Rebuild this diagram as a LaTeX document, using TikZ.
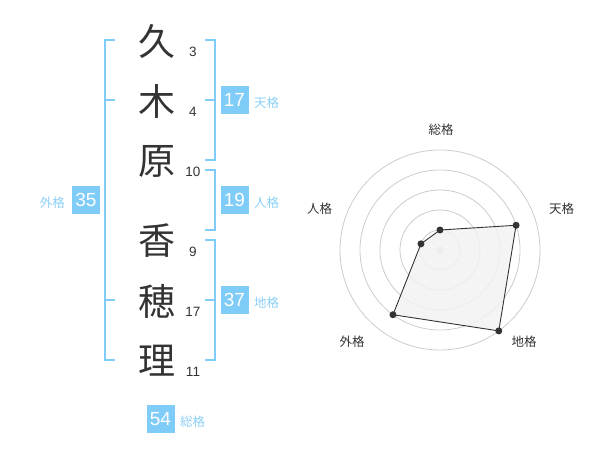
\documentclass[tikz,border=0pt]{standalone}
\usepackage{fontspec}
\newfontfamily\cjk{Noto Sans CJK JP}
\newfontfamily\numf{Liberation Sans}
\definecolor{sky}{HTML}{80CCF8}
\definecolor{skytext}{HTML}{8CCFF5}
\definecolor{ink}{HTML}{333333}
\definecolor{ring}{HTML}{CCCCCC}
\definecolor{area}{HTML}{F2F2F2}
\tikzset{
  kanji/.style={inner sep=0pt, text=ink, font=\cjk\fontsize{37}{37}\selectfont},
  stroke/.style={inner sep=0pt, text=ink, font=\numf\fontsize{13.5}{14}\selectfont},
  bracket/.style={draw=sky, line width=2pt},
  scorebox/.style={fill=sky, minimum width=28pt, minimum height=28pt, inner sep=0pt, text=white, font=\numf\fontsize{19}{19}\selectfont},
  scorelabel/.style={inner sep=0pt, text=skytext, font=\cjk\fontsize{12.5}{12.5}\selectfont},
  axislabel/.style={inner sep=0pt, text=ink, font=\cjk\fontsize{12.5}{12.5}\selectfont},
  ringline/.style={draw=ring, line width=0.8pt},
  dot/.style={circle, fill=ink, inner sep=0pt, minimum size=7pt},
}
\begin{document}
\begin{tikzpicture}[x=1pt,y=-1pt]
\useasboundingbox (0,0) rectangle (600,470);
% name characters
\node[kanji] (k1) at (157,41) {久};
\node[kanji] (k2) at (157,101) {木};
\node[kanji] (k3) at (157,161) {原};
\node[kanji] (k4) at (157,241) {香};
\node[kanji] (k5) at (157,301) {穂};
\node[kanji] (k6) at (157,361) {理};
\node[stroke] (s1) at (193,52) {3};
\node[stroke] (s2) at (193,112) {4};
\node[stroke] (s3) at (193,172) {10};
\node[stroke] (s4) at (193,252) {9};
\node[stroke] (s5) at (193,312) {17};
\node[stroke] (s6) at (193,372) {11};
% left bracket (gaikaku)
\coordinate (la) at (105,40);
\coordinate (lb) at (105,360);
\draw[bracket] (115,40) -- (la) -- (lb) -- (115,360);
\draw[bracket] (105,100) -- (115,100);
\draw[bracket] (105,300) -- (115,300);
% tenkaku bracket
\draw[bracket] (205,40) -- (215,40) -- (215,160) -- (205,160);
\draw[bracket] (205,100) -- (215,100);
% jinkaku bracket
\draw[bracket] (205,170) -- (215,170) -- (215,230) -- (205,230);
% chikaku bracket
\draw[bracket] (205,240) -- (215,240) -- (215,360) -- (205,360);
\draw[bracket] (205,300) -- (215,300);
% score boxes
\node[scorebox] (b17) at (234.5,100) {17};
\node[scorelabel, anchor=west] (t17) at (254,103) {天格};
\node[scorebox] (b19) at (234.5,200) {19};
\node[scorelabel, anchor=west] (t19) at (254,203) {人格};
\node[scorebox] (b37) at (234.5,300) {37};
\node[scorelabel, anchor=west] (t37) at (254,303) {地格};
\node[scorebox] (b35) at (86,200) {35};
\node[scorelabel, anchor=east] (t35) at (65,203) {外格};
\node[scorebox] (b54) at (160.5,419) {54};
\node[scorelabel, anchor=west] (t54) at (180,422) {総格};
% radar chart
\begin{scope}[shift={(440,250)}, yscale=-1]
  \foreach \r in {20,40,60,80,100} \draw[ringline] (0,0) circle[radius=\r];
  \node[circle, fill=ring, inner sep=0pt, minimum size=7pt] (c0) at (0,0) {};
  \coordinate (p1) at (90:20);
  \coordinate (p2) at (18:80);
  \coordinate (p3) at (-54:100);
  \coordinate (p4) at (-126:80);
  \coordinate (p5) at (162:20);
  \draw[ink, fill=area, fill opacity=0.85, line width=0.9pt] (p1) -- (p2) -- (p3) -- (p4) -- (p5) -- cycle;
  \foreach \p in {p1,p2,p3,p4,p5} \node[dot] at (\p) {};
  \node[axislabel] (a1) at (1,120.5) {総格};
  \node[axislabel] (a2) at (121.5,41.5) {天格};
  \node[axislabel] (a3) at (84,-92) {地格};
  \node[axislabel] (a4) at (-88,-92) {外格};
  \node[axislabel] (a5) at (-120.5,41.5) {人格};
\end{scope}
\end{tikzpicture}
\end{document}
